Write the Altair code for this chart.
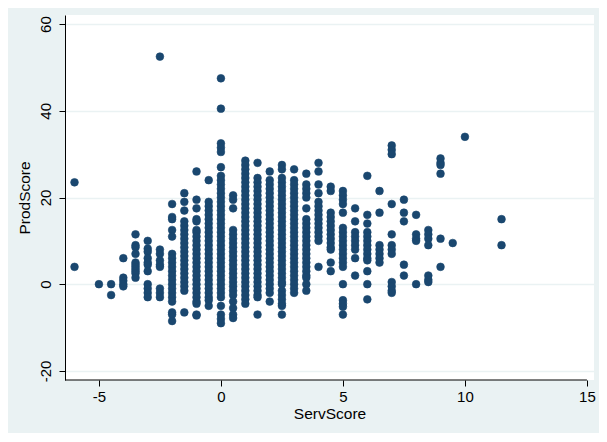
import altair as alt
import pandas as pd

# ProdScore values observed at each ServScore level
serv_levels = [-6, -5, -4.5, -4, -3.5, -3, -2.5, -2, -1.5, -1, -0.5, 0, 0.5, 1, 1.5,
               2, 2.5, 3, 3.5, 4, 4.5, 5, 5.5, 6, 6.5, 7, 7.5, 8, 8.5, 9, 9.5, 10, 11.5]

prod_by_level = [
    [23.5, 4],
    [0],
    [0, -2.5],
    [6, 1.5, 0.8, 0, -0.5],
    [11.5, 9, 8.5, 7, 5, 4.5, 4, 3.5, 3, 2.5, 1.5],
    [10, 8.2, 7.5, 6, 5, 4.5, 3, 0, -1, -2, -3],
    [52.5, 8, 7, 5.5, 4.5, 4, -1, -2, -3],
    [18.5, 15.5, 15, 12.5, 11, 7, 6, 5, 4, 3, 2, 1, 0, -1, -2, -3, -4, -6.5, -7, -8.5],
    [21, 19, 17, 14.5, 13.5, 12.5, 11.5, 10.5, 9.5, 8.5, 7.5, 6.5, 5.5, 4.5, 3.5, 2.5,
     1.5, 0.5, -0.5, -1.5, -6.5],
    [26, 19.5, 17.5, 15, 14.5, 12.5, 12, 11, 10, 9, 8, 7, 6, 5, 4, 3, 2, 1, 0, -1, -2,
     -3, -4, -4.5, -7, -7.2],
    [24, 19, 18, 17, 16, 15, 14, 13, 12, 11, 10, 9, 8, 7, 6, 5, 4, 3, 2, 1, 0, -1, -2,
     -3, -3.7, -5],
    [47.5, 40.5, 32.5, 31.5, 30.5, 27, 25, 24, 23, 22, 21, 20, 19, 18, 17, 16, 15, 14,
     13, 12, 11, 10, 9, 8, 7, 6, 5, 4, 3, 2, 1, 0, -1, -2, -3, -5, -7, -8, -9],
    [20.5, 19.5, 17.5, 12.5, 11.5, 10.5, 9.5, 8.5, 7.5, 6.5, 5.5, 4.5, 3.5, 2.5, 1.5,
     0.5, -0.5, -1.5, -2.5, -4, -5.5, -7, -7.8],
    [28.5, 27.5, 26.5, 25.5, 24.5, 23.5, 22.5, 21.5, 20.5, 19.5, 18.5, 17.5, 16.5, 15.5,
     14.5, 13.5, 12.5, 11.5, 10.5, 9.5, 8.5, 7.5, 6.5, 5.5, 4.5, 3.5, 2.5, 1.5, 0.5,
     -0.5, -1.5, -2.5, -3.5, -4.5],
    [28, 24.5, 23.5, 22.5, 21.5, 20.5, 19.5, 18.5, 17.5, 16.5, 15.5, 14.5, 13.5, 12.5,
     11.5, 10.5, 9.5, 8.5, 7.5, 6.5, 5.5, 4.5, 3.5, 2.5, 1.5, 0.5, -0.5, -1.5, -2.5,
     -3, -7],
    [26, 24, 23, 22, 21, 20, 19, 18, 17, 16, 15, 14, 13, 12, 11, 10, 9, 8, 7, 6, 5, 4,
     3, 2, 1, 0, -1, -2, -4],
    [27.5, 26.5, 24.5, 23.5, 22.5, 21.5, 20.5, 19.5, 18.5, 17.5, 16.5, 15.5, 14.5, 13.5,
     12.5, 11.5, 10.5, 9.5, 8.5, 7.5, 6.5, 5.5, 4.5, 3.5, 2.5, 1.5, 0.5, 0, -1.5, -2.5,
     -3.5, -4.5, -5, -7],
    [26.5, 24, 23, 22, 21, 20, 19, 18, 17, 16, 15, 14, 13, 12, 11, 10, 9, 8, 7, 6, 5, 4,
     3, 2, 1, 0, -1, -2],
    [25.5, 23, 22, 21, 20, 17.5, 15, 14, 13, 12, 11, 10, 9, 8, 7, 6, 5, 4, 3, 2, 1.5, 0,
     -1.5],
    [28, 26, 23, 21, 19, 18, 17, 16, 15, 14, 13, 12, 11, 10, 4],
    [22.5, 21.5, 16.5, 15.5, 14.5, 13.5, 12.5, 11.5, 10.5, 9.5, 8.5, 8, 5, 3],
    [21.5, 20.5, 19.5, 18.5, 16.5, 13, 12, 11, 10, 9, 8, 7, 6, 5, 4, 0, -3.7, -4.5,
     -5.2, -7],
    [17.5, 14.5, 12, 11, 10, 9, 8, 6, 2],
    [25, 16, 14, 12, 11, 10, 9, 8, 7, 6, 5.5, 3, 0, -3.5],
    [21.5, 16.5, 9, 8, 7, 6, 5],
    [32, 31, 30, 18.5, 11.5, 9, 8, 7, 0.5, -0.5, -1.5, -2],
    [19.5, 16.5, 14.5, 4.5, 2],
    [16, 11.5, 10.5, 10, 0],
    [12.5, 11.5, 10.5, 9, 2, 1, 0.5],
    [29, 28, 27.5, 25.5, 10.5, 4],
    [9.5],
    [34],
    [15, 9],
]

x_ticks = [-5, 0, 5, 10, 15]
y_ticks = [-20, 0, 20, 40, 60]

rows = []
for xv, ys in zip(serv_levels, prod_by_level):
    for yv in ys:
        rows.append({"ServScore": xv, "ProdScore": yv})
df = pd.DataFrame(rows)

X_DOM = [-6.39, 15.29]
Y_DOM = [-22.1, 62.1]
FONT = "Liberation Sans"
HYPHEN_LABEL = "datum.value < 0 ? '-' + abs(datum.value) : '' + datum.value"

xs = alt.Scale(domain=X_DOM, nice=False, zero=False)
ys_ = alt.Scale(domain=Y_DOM, nice=False, zero=False)

points = alt.Chart(df).mark_circle(
    size=60, color="#1a476f", opacity=1, stroke="#1a476f", strokeWidth=0.6
).encode(
    x=alt.X("ServScore:Q", scale=xs,
            axis=alt.Axis(values=x_ticks, grid=False, domain=False, tickSize=6,
                          tickColor="#000", tickWidth=1, labelFontSize=15,
                          labelColor="#000", labelPadding=3, labelFont=FONT,
                          labelExpr=HYPHEN_LABEL,
                          title="ServScore", titleFont=FONT, titleFontSize=15.5,
                          titleFontWeight="normal", titleColor="#000",
                          titlePadding=2)),
    y=alt.Y("ProdScore:Q", scale=ys_,
            axis=alt.Axis(values=y_ticks, grid=True, gridColor="#eaf2f3",
                          gridWidth=1.5, domain=True, domainColor="#000",
                          domainWidth=1, tickSize=6, tickColor="#000",
                          labelFontSize=15, labelColor="#000", labelFont=FONT,
                          labelExpr=HYPHEN_LABEL,
                          labelAngle=270, labelAlign="center",
                          labelBaseline="bottom", labelPadding=6,
                          title="ProdScore", titleFont=FONT, titleFontSize=15.5,
                          titleFontWeight="normal", titleColor="#000",
                          titlePadding=6)),
)

axis_line = alt.Chart(pd.DataFrame({"a": [X_DOM[0]], "b": [15]})).mark_rule(
    color="#000", strokeWidth=1
).encode(
    x=alt.X("a:Q", scale=xs),
    x2="b:Q",
    y=alt.value(365),
)

chart = alt.layer(points, axis_line).properties(
    width=529, height=365,
    padding={"left": 57, "top": 7, "right": 5, "bottom": 53},
    autosize=alt.AutoSizeParams(type="none"),
    background="#eaf2f3",
).configure_view(fill="white", stroke=None)

chart.save("out.html", embed_options={"renderer": "svg", "actions": False})
